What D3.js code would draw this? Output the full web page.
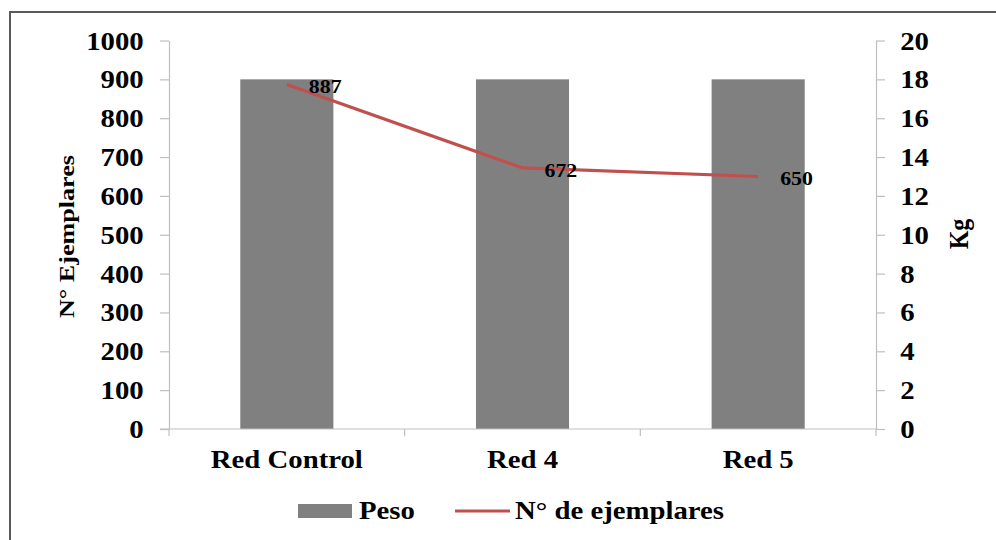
<!DOCTYPE html>
<html>
<head>
<meta charset="utf-8">
<script src="https://cdn.jsdelivr.net/npm/d3@7"></script>
<style>
  html, body { margin: 0; padding: 0; background: #fff; }
  svg text { font-family: "Times New Roman", "Liberation Serif", serif; font-weight: bold; fill: #000; }
</style>
</head>
<body>
<svg id="chart" width="996" height="540"></svg>
<script>
// Categories and series
const categories = ["Red Control", "Red 4", "Red 5"];
const pesoKg = [18, 18, 18];            // bars, right axis (Kg)
const ejemplares = [887, 672, 650];     // line, left axis (N° Ejemplares)
const leftTicks = [0, 100, 200, 300, 400, 500, 600, 700, 800, 900, 1000];
const rightTicks = [0, 2, 4, 6, 8, 10, 12, 14, 16, 18, 20];

const svg = d3.select("#chart");
const W = 996, H = 540;
const plot = { left: 169, right: 876, top: 40.5, bottom: 429 };
const SX = 1.15; // horizontal glyph widening of the serif labels

const barColor = "#808080";
const lineColor = "#C0504D";
const axisColor = "#BFBFBF";

svg.append("rect").attr("width", W).attr("height", H).attr("fill", "#fff");

// outer frame
svg.append("rect")
  .attr("x", 10).attr("y", 12)
  .attr("width", W + 20).attr("height", H + 20)
  .attr("fill", "none").attr("stroke", "#5a5a5a").attr("stroke-width", 2);

const x = d3.scaleBand().domain(categories).range([plot.left, plot.right]).padding(0);
const yLeft = d3.scaleLinear().domain([0, 1000]).range([plot.bottom, plot.top]);
const yRight = d3.scaleLinear().domain([0, 20]).range([plot.bottom, plot.top]);

const barW = x.bandwidth() * 0.395;

// bars (Peso)
svg.append("g").selectAll("rect").data(categories).join("rect")
  .attr("x", d => x(d) + x.bandwidth() / 2 - barW / 2)
  .attr("y", (d, i) => yRight(pesoKg[i]))
  .attr("width", barW)
  .attr("height", (d, i) => yRight(0) - yRight(pesoKg[i]))
  .attr("fill", barColor);

// left axis
const gL = svg.append("g").attr("transform", `translate(${plot.left},0)`)
  .call(d3.axisLeft(yLeft).tickValues(leftTicks).tickFormat(d3.format("d"))
    .tickSizeInner(9).tickSizeOuter(0).tickPadding(13));
// right axis
const gR = svg.append("g").attr("transform", `translate(${plot.right},0)`)
  .call(d3.axisRight(yRight).tickValues(rightTicks).tickFormat(d3.format("d"))
    .tickSizeInner(9).tickSizeOuter(0).tickPadding(12));
[gL, gR].forEach(g => {
  g.selectAll("path, line").attr("stroke", axisColor).attr("stroke-width", 1.2);
  g.selectAll("text")
    .style("font-size", "25px")
    .attr("dy", "0.34em")
    .attr("transform", `scale(${SX},1)`);
});
gL.selectAll("text").attr("x", -22);
gR.selectAll("text").attr("x", 21);

// category axis
const gX = svg.append("g").attr("transform", `translate(0,${plot.bottom})`)
  .call(d3.axisBottom(x).tickSize(0).tickPadding(0));
gX.select("path").remove();
gX.append("line").attr("x1", plot.left - 9).attr("x2", plot.right).attr("y1", 0).attr("y2", 0)
  .attr("stroke", axisColor).attr("stroke-width", 1.2);
const bounds = categories.map(c => x(c)).concat([plot.right]);
gX.selectAll(".bound").data(bounds).join("line").attr("class", "bound")
  .attr("x1", d => d).attr("x2", d => d).attr("y1", 0).attr("y2", 7)
  .attr("stroke", axisColor).attr("stroke-width", 1.2);
gX.selectAll(".tick text")
  .style("font-size", "25px")
  .attr("y", 0).attr("dy", 0)
  .attr("transform", `translate(0,39) scale(${SX},1)`);

// line (N° de ejemplares)
const line = d3.line()
  .x((d, i) => x(categories[i]) + x.bandwidth() / 2)
  .y(d => yLeft(d));
svg.append("path").datum(ejemplares)
  .attr("d", line)
  .attr("fill", "none").attr("stroke", lineColor).attr("stroke-width", 3.2);

// value labels
svg.append("g").selectAll("text").data(ejemplares).join("text")
  .attr("transform", (d, i) => `translate(${x(categories[i]) + x.bandwidth() / 2 + 22},${yLeft(d) + 9}) scale(${SX},1)`)
  .style("font-size", "19px")
  .text(d => d);

// axis titles
svg.append("text")
  .attr("transform", `translate(74,236.5) rotate(-90)`)
  .attr("text-anchor", "middle")
  .attr("textLength", 163).attr("lengthAdjust", "spacingAndGlyphs")
  .style("font-size", "22px")
  .text("N° Ejemplares");
svg.append("text")
  .attr("transform", `translate(968,234) scale(${SX},1) rotate(-90)`)
  .attr("text-anchor", "middle")
  .style("font-size", "24px")
  .text("Kg");

// legend
const lg = svg.append("g");
lg.append("rect").attr("x", 298).attr("y", 504).attr("width", 54).attr("height", 14).attr("fill", barColor);
lg.append("text").attr("transform", `translate(359,519) scale(${SX},1)`).style("font-size", "25px").text("Peso");
lg.append("line").attr("x1", 455).attr("x2", 510).attr("y1", 511).attr("y2", 511)
  .attr("stroke", lineColor).attr("stroke-width", 3.2);
lg.append("text").attr("transform", `translate(515,519) scale(${SX},1)`).style("font-size", "25px").text("N° de ejemplares");
</script>
</body>
</html>
